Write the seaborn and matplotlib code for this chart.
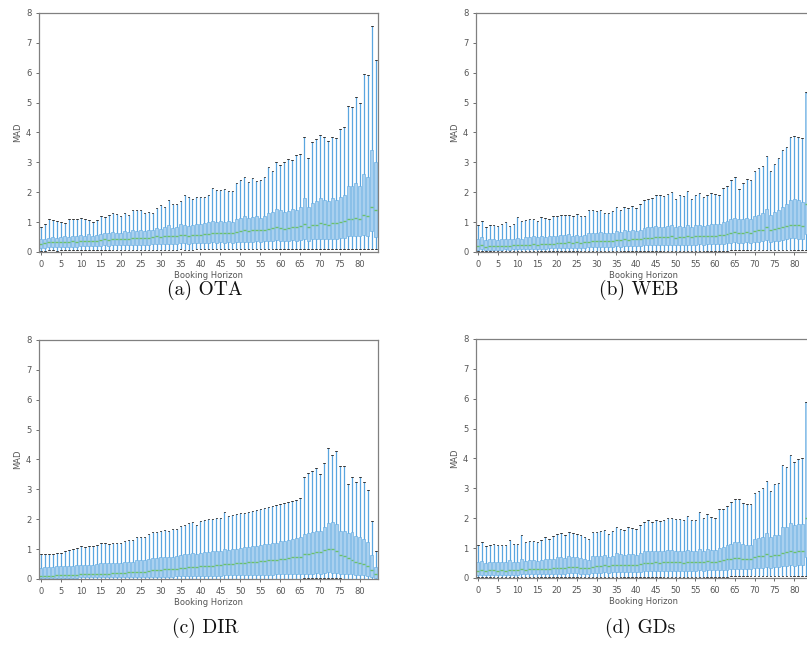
import pandas as pd
import seaborn as sns
import matplotlib.pyplot as plt

# booking horizon positions 0..84
horizon = list(range(85))

# ---- (a) OTA ----
top_ota = [0.85, 0.95, 1.1, 1.07, 1.05, 1.02, 0.98, 1.1, 1.12, 1.1,
           1.15, 1.12, 1.08, 1.0, 1.08, 1.22, 1.18, 1.25, 1.3, 1.28,
           1.2, 1.3, 1.25, 1.4, 1.4, 1.42, 1.3, 1.35, 1.32, 1.48,
           1.58, 1.52, 1.75, 1.6, 1.62, 1.72, 1.9, 1.85, 1.78, 1.85,
           1.85, 1.85, 1.9, 2.15, 2.08, 2.08, 2.1, 2.05, 2.05, 2.32,
           2.42, 2.52, 2.35, 2.48, 2.38, 2.4, 2.5, 2.85, 2.7, 3.02,
           2.92, 3.0, 3.1, 3.08, 3.25, 3.28, 3.85, 3.15, 3.68, 3.78,
           3.92, 3.85, 3.72, 3.85, 3.8, 4.1, 4.2, 4.9, 4.85, 5.2,
           5.0, 5.95, 5.92, 7.55, 6.42]
q3_ota = [0.42, 0.45, 0.48, 0.5, 0.48, 0.5, 0.52, 0.5, 0.55, 0.55,
          0.58, 0.55, 0.6, 0.55, 0.58, 0.6, 0.62, 0.65, 0.68, 0.62,
          0.65, 0.7, 0.66, 0.72, 0.7, 0.75, 0.7, 0.72, 0.75, 0.8,
          0.78, 0.82, 0.9, 0.8, 0.85, 0.95, 0.92, 0.88, 0.9, 0.95,
          0.95, 0.98, 1.0, 1.05, 1.02, 1.05, 1.0, 1.05, 1.02, 1.1,
          1.15, 1.2, 1.15, 1.18, 1.2, 1.15, 1.22, 1.3, 1.35, 1.45,
          1.4, 1.35, 1.38, 1.45, 1.4, 1.5, 1.8, 1.5, 1.65, 1.7,
          1.8, 1.75, 1.7, 1.8, 1.75, 1.85, 1.9, 2.2, 2.2, 2.3,
          2.2, 2.6, 2.5, 3.4, 3.0]
med_ota = [0.28, 0.3, 0.32, 0.33, 0.32, 0.34, 0.33, 0.35, 0.36, 0.35,
           0.36, 0.38, 0.37, 0.36, 0.38, 0.4, 0.42, 0.41, 0.43, 0.42,
           0.44, 0.45, 0.44, 0.46, 0.47, 0.48, 0.46, 0.48, 0.5, 0.52,
           0.5, 0.53, 0.55, 0.52, 0.54, 0.58, 0.56, 0.55, 0.57, 0.58,
           0.58, 0.6, 0.6, 0.63, 0.62, 0.64, 0.62, 0.65, 0.64, 0.68,
           0.7, 0.72, 0.7, 0.72, 0.74, 0.72, 0.75, 0.78, 0.8, 0.82,
           0.8, 0.78, 0.8, 0.84, 0.82, 0.86, 0.95, 0.85, 0.9, 0.92,
           0.98, 0.95, 0.92, 0.98, 0.96, 1.0, 1.05, 1.12, 1.1, 1.15,
           1.12, 1.25, 1.2, 1.5, 1.4]
q1_ota = [0.14, 0.15, 0.16, 0.17, 0.16, 0.17, 0.18, 0.17, 0.18, 0.18,
          0.19, 0.2, 0.19, 0.2, 0.2, 0.21, 0.22, 0.21, 0.22, 0.22,
          0.23, 0.24, 0.23, 0.24, 0.25, 0.25, 0.24, 0.25, 0.26, 0.27,
          0.26, 0.27, 0.28, 0.27, 0.28, 0.3, 0.29, 0.28, 0.29, 0.3,
          0.3, 0.31, 0.3, 0.32, 0.31, 0.32, 0.3, 0.32, 0.31, 0.33,
          0.34, 0.35, 0.34, 0.35, 0.36, 0.34, 0.36, 0.37, 0.38, 0.4,
          0.38, 0.36, 0.37, 0.39, 0.38, 0.4, 0.45, 0.38, 0.42, 0.43,
          0.45, 0.44, 0.42, 0.45, 0.44, 0.47, 0.48, 0.52, 0.52, 0.55,
          0.52, 0.58, 0.55, 0.7, 0.5]
lo_ota = [0.05, 0.05, 0.06, 0.06, 0.05, 0.06, 0.06, 0.06, 0.06, 0.06,
          0.06, 0.07, 0.06, 0.07, 0.07, 0.07, 0.07, 0.07, 0.07, 0.07,
          0.07, 0.08, 0.07, 0.08, 0.08, 0.08, 0.08, 0.08, 0.08, 0.08,
          0.08, 0.08, 0.08, 0.08, 0.08, 0.09, 0.08, 0.08, 0.08, 0.09,
          0.09, 0.09, 0.09, 0.09, 0.09, 0.09, 0.09, 0.09, 0.09, 0.09,
          0.09, 0.1, 0.09, 0.1, 0.1, 0.09, 0.1, 0.1, 0.1, 0.1,
          0.1, 0.1, 0.1, 0.1, 0.1, 0.1, 0.1, 0.1, 0.1, 0.1,
          0.1, 0.1, 0.1, 0.1, 0.1, 0.1, 0.1, 0.1, 0.1, 0.1,
          0.1, 0.1, 0.1, 0.1, 0.1]

# ---- (b) WEB ----
top_web = [0.9, 1.05, 0.82, 0.92, 0.9, 0.88, 0.95, 1.0, 0.88, 0.95,
           1.18, 1.05, 1.08, 1.12, 1.1, 1.05, 1.18, 1.15, 1.1, 1.2,
           1.22, 1.25, 1.25, 1.25, 1.2, 1.28, 1.22, 1.2, 1.4, 1.42,
           1.38, 1.42, 1.32, 1.3, 1.38, 1.52, 1.4, 1.5, 1.48, 1.55,
           1.48, 1.6, 1.75, 1.78, 1.8, 1.92, 1.9, 1.88, 1.95, 2.0,
           1.78, 1.92, 1.88, 2.05, 1.78, 1.92, 1.98, 1.85, 1.9, 1.98,
           1.95, 1.92, 2.15, 2.2, 2.4, 2.52, 2.12, 2.3, 2.45, 2.4,
           2.72, 2.8, 2.88, 3.2, 2.7, 2.95, 3.15, 3.4, 3.5, 3.85,
           3.88, 3.85, 3.8, 5.35, 6.1]
q3_web = [0.42, 0.5, 0.4, 0.45, 0.42, 0.4, 0.45, 0.45, 0.42, 0.45,
          0.48, 0.45, 0.5, 0.5, 0.52, 0.5, 0.52, 0.5, 0.52, 0.55,
          0.55, 0.58, 0.58, 0.6, 0.55, 0.58, 0.55, 0.58, 0.62, 0.65,
          0.65, 0.68, 0.62, 0.62, 0.65, 0.7, 0.68, 0.72, 0.7, 0.72,
          0.7, 0.75, 0.8, 0.82, 0.85, 0.88, 0.85, 0.85, 0.88, 0.9,
          0.82, 0.88, 0.85, 0.92, 0.85, 0.9, 0.92, 0.88, 0.92, 0.95,
          0.95, 0.95, 1.0, 1.05, 1.1, 1.15, 1.1, 1.12, 1.15, 1.1,
          1.2, 1.25, 1.3, 1.45, 1.25, 1.35, 1.4, 1.5, 1.6, 1.75,
          1.78, 1.75, 1.68, 5.33, 3.0]
med_web = [0.2, 0.22, 0.18, 0.2, 0.2, 0.19, 0.2, 0.21, 0.2, 0.22,
           0.24, 0.23, 0.25, 0.25, 0.26, 0.25, 0.27, 0.26, 0.27, 0.28,
           0.3, 0.3, 0.31, 0.32, 0.3, 0.32, 0.31, 0.32, 0.35, 0.36,
           0.36, 0.38, 0.36, 0.36, 0.38, 0.4, 0.39, 0.42, 0.41, 0.42,
           0.42, 0.44, 0.46, 0.47, 0.48, 0.5, 0.49, 0.5, 0.5, 0.52,
           0.48, 0.51, 0.5, 0.53, 0.5, 0.52, 0.53, 0.52, 0.54, 0.55,
           0.55, 0.56, 0.58, 0.6, 0.63, 0.66, 0.63, 0.65, 0.67, 0.65,
           0.7, 0.72, 0.75, 0.82, 0.72, 0.78, 0.8, 0.84, 0.88, 0.92,
           0.92, 0.9, 0.88, 1.6, 1.2]
q1_web = [0.08, 0.09, 0.07, 0.08, 0.08, 0.07, 0.08, 0.09, 0.08, 0.09,
          0.1, 0.09, 0.1, 0.1, 0.11, 0.1, 0.11, 0.11, 0.12, 0.12,
          0.13, 0.13, 0.14, 0.14, 0.13, 0.14, 0.14, 0.14, 0.16, 0.17,
          0.17, 0.18, 0.17, 0.17, 0.18, 0.19, 0.18, 0.2, 0.19, 0.2,
          0.2, 0.21, 0.22, 0.22, 0.23, 0.24, 0.23, 0.24, 0.24, 0.25,
          0.23, 0.24, 0.24, 0.25, 0.24, 0.25, 0.26, 0.25, 0.26, 0.27,
          0.27, 0.27, 0.28, 0.29, 0.3, 0.32, 0.3, 0.31, 0.32, 0.31,
          0.33, 0.34, 0.36, 0.4, 0.34, 0.37, 0.38, 0.4, 0.43, 0.46,
          0.46, 0.45, 0.44, 0.6, 0.5]
lo_web = [0.02, 0.02, 0.02, 0.02, 0.02, 0.02, 0.02, 0.02, 0.02, 0.02,
          0.03, 0.02, 0.03, 0.03, 0.03, 0.03, 0.03, 0.03, 0.03, 0.03,
          0.03, 0.03, 0.03, 0.03, 0.03, 0.03, 0.03, 0.03, 0.04, 0.04,
          0.04, 0.04, 0.04, 0.04, 0.04, 0.04, 0.04, 0.04, 0.04, 0.04,
          0.04, 0.04, 0.04, 0.04, 0.05, 0.05, 0.05, 0.05, 0.05, 0.05,
          0.05, 0.05, 0.05, 0.05, 0.05, 0.05, 0.05, 0.05, 0.05, 0.05,
          0.05, 0.05, 0.05, 0.05, 0.06, 0.06, 0.06, 0.06, 0.06, 0.06,
          0.06, 0.06, 0.06, 0.06, 0.06, 0.06, 0.06, 0.06, 0.06, 0.06,
          0.06, 0.06, 0.06, 0.06, 0.06]

# ---- (c) DIR ----
top_dir = [0.82, 0.82, 0.83, 0.85, 0.86, 0.88, 0.95, 0.98, 1.0, 1.05,
           1.1, 1.08, 1.12, 1.1, 1.15, 1.2, 1.2, 1.18, 1.2, 1.2,
           1.22, 1.28, 1.3, 1.3, 1.42, 1.4, 1.42, 1.5, 1.58, 1.58,
           1.62, 1.65, 1.62, 1.68, 1.68, 1.78, 1.82, 1.88, 1.92, 1.82,
           1.95, 1.98, 2.02, 2.0, 2.05, 2.05, 2.25, 2.12, 2.15, 2.18,
           2.2, 2.22, 2.25, 2.28, 2.32, 2.35, 2.38, 2.42, 2.45, 2.48,
           2.52, 2.55, 2.58, 2.62, 2.65, 2.72, 3.42, 3.55, 3.62, 3.72,
           3.52, 3.88, 4.38, 4.15, 4.28, 3.78, 3.78, 3.18, 3.42, 3.25,
           3.42, 3.25, 2.98, 1.95, 0.95]
q3_dir = [0.38, 0.4, 0.4, 0.41, 0.42, 0.42, 0.44, 0.44, 0.45, 0.46,
          0.47, 0.47, 0.48, 0.48, 0.5, 0.52, 0.52, 0.52, 0.53, 0.54,
          0.55, 0.56, 0.57, 0.58, 0.62, 0.62, 0.63, 0.66, 0.69, 0.7,
          0.72, 0.73, 0.73, 0.75, 0.76, 0.8, 0.82, 0.84, 0.86, 0.84,
          0.88, 0.89, 0.91, 0.92, 0.94, 0.95, 1.0, 0.98, 1.0, 1.02,
          1.04, 1.06, 1.08, 1.1, 1.12, 1.14, 1.16, 1.18, 1.2, 1.22,
          1.26, 1.28, 1.3, 1.34, 1.36, 1.4, 1.52, 1.55, 1.58, 1.62,
          1.6, 1.75, 1.88, 1.9, 1.85, 1.62, 1.62, 1.55, 1.58, 1.45,
          1.4, 1.35, 1.25, 0.8, 0.4]
med_dir = [0.1, 0.1, 0.11, 0.11, 0.12, 0.12, 0.13, 0.13, 0.14, 0.14,
           0.15, 0.15, 0.16, 0.16, 0.17, 0.18, 0.18, 0.18, 0.19, 0.2,
           0.2, 0.21, 0.22, 0.22, 0.24, 0.24, 0.25, 0.27, 0.29, 0.3,
           0.31, 0.32, 0.32, 0.33, 0.34, 0.37, 0.38, 0.4, 0.41, 0.4,
           0.42, 0.43, 0.44, 0.45, 0.46, 0.47, 0.5, 0.49, 0.5, 0.52,
           0.53, 0.55, 0.56, 0.57, 0.58, 0.6, 0.61, 0.62, 0.64, 0.65,
           0.67, 0.68, 0.7, 0.72, 0.73, 0.75, 0.82, 0.85, 0.88, 0.9,
           0.9, 0.98, 1.02, 1.0, 0.95, 0.8, 0.78, 0.7, 0.65, 0.58,
           0.55, 0.5, 0.45, 0.3, 0.15]
q1_dir = [0.03, 0.03, 0.03, 0.03, 0.04, 0.04, 0.04, 0.04, 0.04, 0.04,
          0.05, 0.05, 0.05, 0.05, 0.05, 0.05, 0.05, 0.05, 0.06, 0.06,
          0.06, 0.06, 0.06, 0.06, 0.07, 0.07, 0.07, 0.07, 0.08, 0.08,
          0.08, 0.08, 0.08, 0.08, 0.09, 0.09, 0.09, 0.1, 0.1, 0.1,
          0.1, 0.1, 0.11, 0.11, 0.11, 0.11, 0.12, 0.12, 0.12, 0.12,
          0.12, 0.13, 0.13, 0.13, 0.13, 0.14, 0.14, 0.14, 0.14, 0.15,
          0.15, 0.15, 0.15, 0.16, 0.16, 0.16, 0.18, 0.18, 0.18, 0.19,
          0.18, 0.2, 0.22, 0.2, 0.2, 0.18, 0.17, 0.16, 0.15, 0.14,
          0.13, 0.12, 0.1, 0.06, 0.03]
lo_dir = [0.0, 0.0, 0.0, 0.0, 0.0, 0.0, 0.0, 0.0, 0.0, 0.0,
          0.0, 0.0, 0.0, 0.0, 0.0, 0.0, 0.0, 0.0, 0.0, 0.0,
          0.0, 0.0, 0.0, 0.0, 0.0, 0.01, 0.0, 0.01, 0.01, 0.01,
          0.01, 0.01, 0.01, 0.01, 0.01, 0.01, 0.01, 0.01, 0.01, 0.01,
          0.01, 0.01, 0.01, 0.01, 0.01, 0.01, 0.01, 0.01, 0.01, 0.01,
          0.01, 0.01, 0.01, 0.01, 0.01, 0.01, 0.01, 0.01, 0.01, 0.01,
          0.01, 0.01, 0.01, 0.01, 0.01, 0.01, 0.02, 0.02, 0.02, 0.02,
          0.02, 0.02, 0.02, 0.02, 0.02, 0.02, 0.01, 0.01, 0.01, 0.01,
          0.01, 0.01, 0.0, 0.0, 0.0]

# ---- (d) GDs ----
top_gds = [1.1, 1.2, 1.08, 1.12, 1.15, 1.12, 1.12, 1.12, 1.28, 1.15,
           1.15, 1.45, 1.22, 1.25, 1.25, 1.22, 1.28, 1.38, 1.32, 1.42,
           1.48, 1.5, 1.45, 1.55, 1.52, 1.48, 1.45, 1.38, 1.3, 1.55,
           1.55, 1.58, 1.6, 1.48, 1.58, 1.7, 1.65, 1.62, 1.7, 1.68,
           1.65, 1.78, 1.88, 1.95, 1.88, 1.95, 1.92, 1.95, 2.02, 2.02,
           1.98, 1.98, 1.95, 2.08, 1.95, 1.95, 2.22, 2.0, 2.15, 2.05,
           2.0, 2.3, 2.32, 2.42, 2.55, 2.65, 2.65, 2.5, 2.48, 2.48,
           2.85, 2.92, 3.0, 3.25, 2.92, 3.15, 3.18, 3.78, 3.72, 4.12,
           3.88, 3.98, 4.02, 5.9, 6.5]
q3_gds = [0.52, 0.58, 0.5, 0.55, 0.55, 0.52, 0.55, 0.52, 0.6, 0.55,
          0.55, 0.62, 0.58, 0.6, 0.6, 0.58, 0.6, 0.62, 0.62, 0.65,
          0.7, 0.7, 0.68, 0.72, 0.7, 0.7, 0.68, 0.65, 0.6, 0.72,
          0.74, 0.75, 0.76, 0.7, 0.75, 0.82, 0.8, 0.78, 0.8, 0.8,
          0.78, 0.85, 0.9, 0.92, 0.9, 0.92, 0.9, 0.92, 0.95, 0.95,
          0.92, 0.92, 0.9, 0.95, 0.9, 0.9, 0.98, 0.92, 0.98, 0.95,
          0.95, 1.02, 1.05, 1.1, 1.15, 1.2, 1.22, 1.15, 1.12, 1.12,
          1.3, 1.35, 1.38, 1.5, 1.38, 1.45, 1.45, 1.7, 1.72, 1.85,
          1.78, 1.8, 1.8, 5.9, 3.0]
med_gds = [0.25, 0.27, 0.24, 0.26, 0.26, 0.25, 0.26, 0.25, 0.28, 0.27,
           0.27, 0.3, 0.28, 0.29, 0.3, 0.29, 0.3, 0.31, 0.31, 0.32,
           0.34, 0.35, 0.34, 0.36, 0.36, 0.36, 0.35, 0.34, 0.32, 0.38,
           0.4, 0.41, 0.42, 0.4, 0.42, 0.45, 0.44, 0.44, 0.45, 0.45,
           0.44, 0.47, 0.5, 0.51, 0.5, 0.52, 0.51, 0.52, 0.53, 0.53,
           0.52, 0.52, 0.51, 0.54, 0.52, 0.52, 0.55, 0.53, 0.56, 0.55,
           0.55, 0.58, 0.6, 0.62, 0.64, 0.66, 0.67, 0.64, 0.63, 0.63,
           0.7, 0.72, 0.74, 0.8, 0.74, 0.78, 0.78, 0.85, 0.86, 0.9,
           0.88, 0.9, 0.9, 2.0, 1.3]
q1_gds = [0.1, 0.11, 0.09, 0.1, 0.1, 0.1, 0.1, 0.1, 0.11, 0.11,
          0.11, 0.12, 0.12, 0.12, 0.13, 0.12, 0.13, 0.13, 0.14, 0.14,
          0.15, 0.15, 0.15, 0.16, 0.16, 0.16, 0.15, 0.15, 0.14, 0.17,
          0.18, 0.18, 0.19, 0.18, 0.19, 0.2, 0.2, 0.2, 0.2, 0.21,
          0.2, 0.21, 0.22, 0.23, 0.22, 0.23, 0.23, 0.24, 0.24, 0.24,
          0.24, 0.24, 0.23, 0.25, 0.24, 0.24, 0.26, 0.25, 0.26, 0.26,
          0.26, 0.27, 0.28, 0.28, 0.3, 0.3, 0.31, 0.3, 0.29, 0.29,
          0.32, 0.33, 0.34, 0.36, 0.34, 0.36, 0.36, 0.4, 0.4, 0.42,
          0.41, 0.42, 0.42, 0.7, 0.5]
lo_gds = [0.03, 0.03, 0.03, 0.03, 0.03, 0.03, 0.03, 0.03, 0.03, 0.03,
          0.03, 0.04, 0.03, 0.04, 0.04, 0.04, 0.04, 0.04, 0.04, 0.04,
          0.04, 0.04, 0.04, 0.04, 0.04, 0.04, 0.04, 0.04, 0.04, 0.04,
          0.05, 0.05, 0.05, 0.05, 0.05, 0.05, 0.05, 0.05, 0.05, 0.05,
          0.05, 0.05, 0.05, 0.05, 0.05, 0.05, 0.05, 0.05, 0.05, 0.05,
          0.05, 0.05, 0.05, 0.05, 0.05, 0.05, 0.05, 0.05, 0.05, 0.05,
          0.05, 0.05, 0.05, 0.05, 0.06, 0.06, 0.06, 0.06, 0.06, 0.06,
          0.06, 0.06, 0.06, 0.06, 0.06, 0.06, 0.06, 0.06, 0.06, 0.06,
          0.06, 0.06, 0.06, 0.06, 0.06]

panels = [
    ("(a) OTA", [lo_ota, q1_ota, med_ota, q3_ota, top_ota]),
    ("(b) WEB", [lo_web, q1_web, med_web, q3_web, top_web]),
    ("(c) DIR", [lo_dir, q1_dir, med_dir, q3_dir, top_dir]),
    ("(d) GDs", [lo_gds, q1_gds, med_gds, q3_gds, top_gds]),
]

# axes rectangles in figure fractions (right column runs off the page, as in the source)
rects = [
    [0.0483, 0.6135, 0.4200, 0.3666],
    [0.5898, 0.6135, 0.4164, 0.3666],
    [0.0483, 0.1120, 0.4200, 0.3666],
    [0.5898, 0.1135, 0.4164, 0.3666],
]
caption_pos = [(0.254, 0.555), (0.792, 0.555), (0.254, 0.037), (0.793, 0.037)]

sns.set_theme(style="ticks")
plt.rcParams['font.family'] = ['DejaVu Sans']

fig = plt.figure(figsize=(8.07, 6.52), dpi=100)

for (title, stats), rect, cpos in zip(panels, rects, caption_pos):
    # five points per horizon -> min, Q1, median, Q3, max with whis=(0, 100)
    rows = []
    for i, h in enumerate(horizon):
        for s in stats:
            rows.append({"horizon": h, "MAD": s[i]})
    df = pd.DataFrame(rows)

    ax = fig.add_axes(rect)
    sns.boxplot(
        data=df, x="horizon", y="MAD", ax=ax,
        whis=(0, 100), showfliers=False, width=0.75,
        color="#a9d0ef", saturation=1, linecolor="#6db0e3", linewidth=0.5,
        medianprops=dict(color="#6cc06c", linewidth=1.0),
        capprops=dict(color="#333333", linewidth=0.7),
        whiskerprops=dict(color="#5aa6e0", linewidth=0.9),
    )
    ax.set_ylim(0, 8)
    ax.set_xlim(-0.5, 84.5)
    ax.set_xticks(range(0, 85, 5))
    ax.set_xticklabels([str(v) for v in range(0, 85, 5)])
    ax.set_yticks(range(0, 9))
    ax.tick_params(labelsize=6, colors="#555555", length=2, width=0.6)
    ax.set_xlabel("Booking Horizon", fontsize=6, color="#555555", labelpad=2)
    ax.set_ylabel("MAD", fontsize=6, color="#555555", labelpad=3)
    for sp in ax.spines.values():
        sp.set_color("#808080")
        sp.set_linewidth(0.9)

    fig.text(cpos[0], cpos[1], title, ha="center", va="center",
             family="cmr10", fontsize=14, color="#111111")

fig.savefig("out.png", dpi=100)
